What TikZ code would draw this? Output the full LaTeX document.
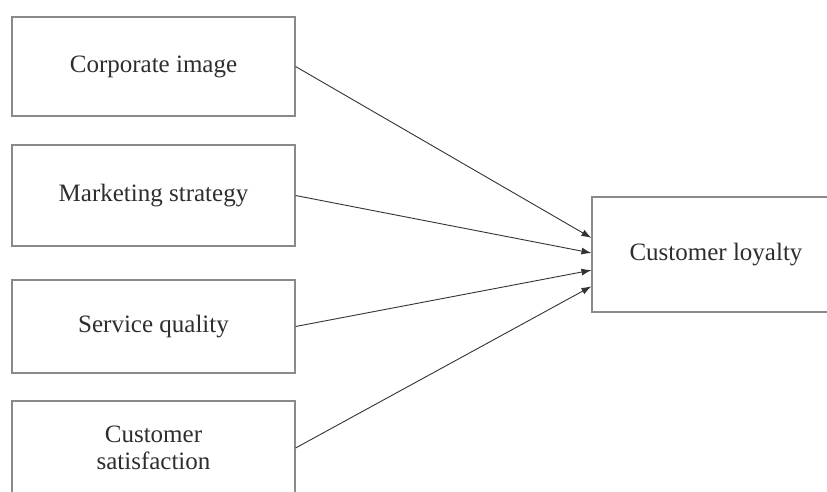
\documentclass[tikz,border=0pt]{standalone}
\usepackage{fontspec}
\setmainfont{Liberation Serif}
\usetikzlibrary{arrows.meta,calc}
\definecolor{boxgray}{HTML}{8A8A8A}
\definecolor{txtgray}{HTML}{2E2E2E}
\begin{document}
\begin{tikzpicture}[x=1pt,y=-1pt,
  box/.style={draw=boxgray,line width=1.1pt,fill=white,inner sep=0pt,
    text=txtgray,align=center,font=\fontsize{25}{27}\selectfont},
  link/.style={draw=black!80,line width=0.9pt,-{Latex[length=10pt,width=7pt]}}]
\clip (0,0) rectangle (827,491);
\fill[white] (0,0) rectangle (827,491);
\node[box,minimum width=283pt,minimum height=99pt] (ci) at (153.5,66.5) {Corporate image};
\node[box,minimum width=283pt,minimum height=101pt] (ms) at (153.5,195.5) {Marketing strategy};
\node[box,minimum width=283pt,minimum height=93pt] (sq) at (153.5,326.5) {Service quality};
\node[box,minimum width=283pt,minimum height=94pt] (cs) at (153.5,448) {Customer\\satisfaction};
\node[box,minimum width=248pt,minimum height=115pt] (cl) at (716,254.5) {Customer loyalty};
\coordinate (e1) at ($(cl.north west)!0.357!(cl.south west)$);
\coordinate (e2) at ($(cl.north west)!0.487!(cl.south west)$);
\coordinate (e3) at ($(cl.north west)!0.635!(cl.south west)$);
\coordinate (e4) at ($(cl.north west)!0.774!(cl.south west)$);
\draw[link] (ci.east) -- (e1);
\draw[link] (ms.east) -- (e2);
\draw[link] (sq.east) -- (e3);
\draw[link] (cs.east) -- (e4);
\end{tikzpicture}
\end{document}
